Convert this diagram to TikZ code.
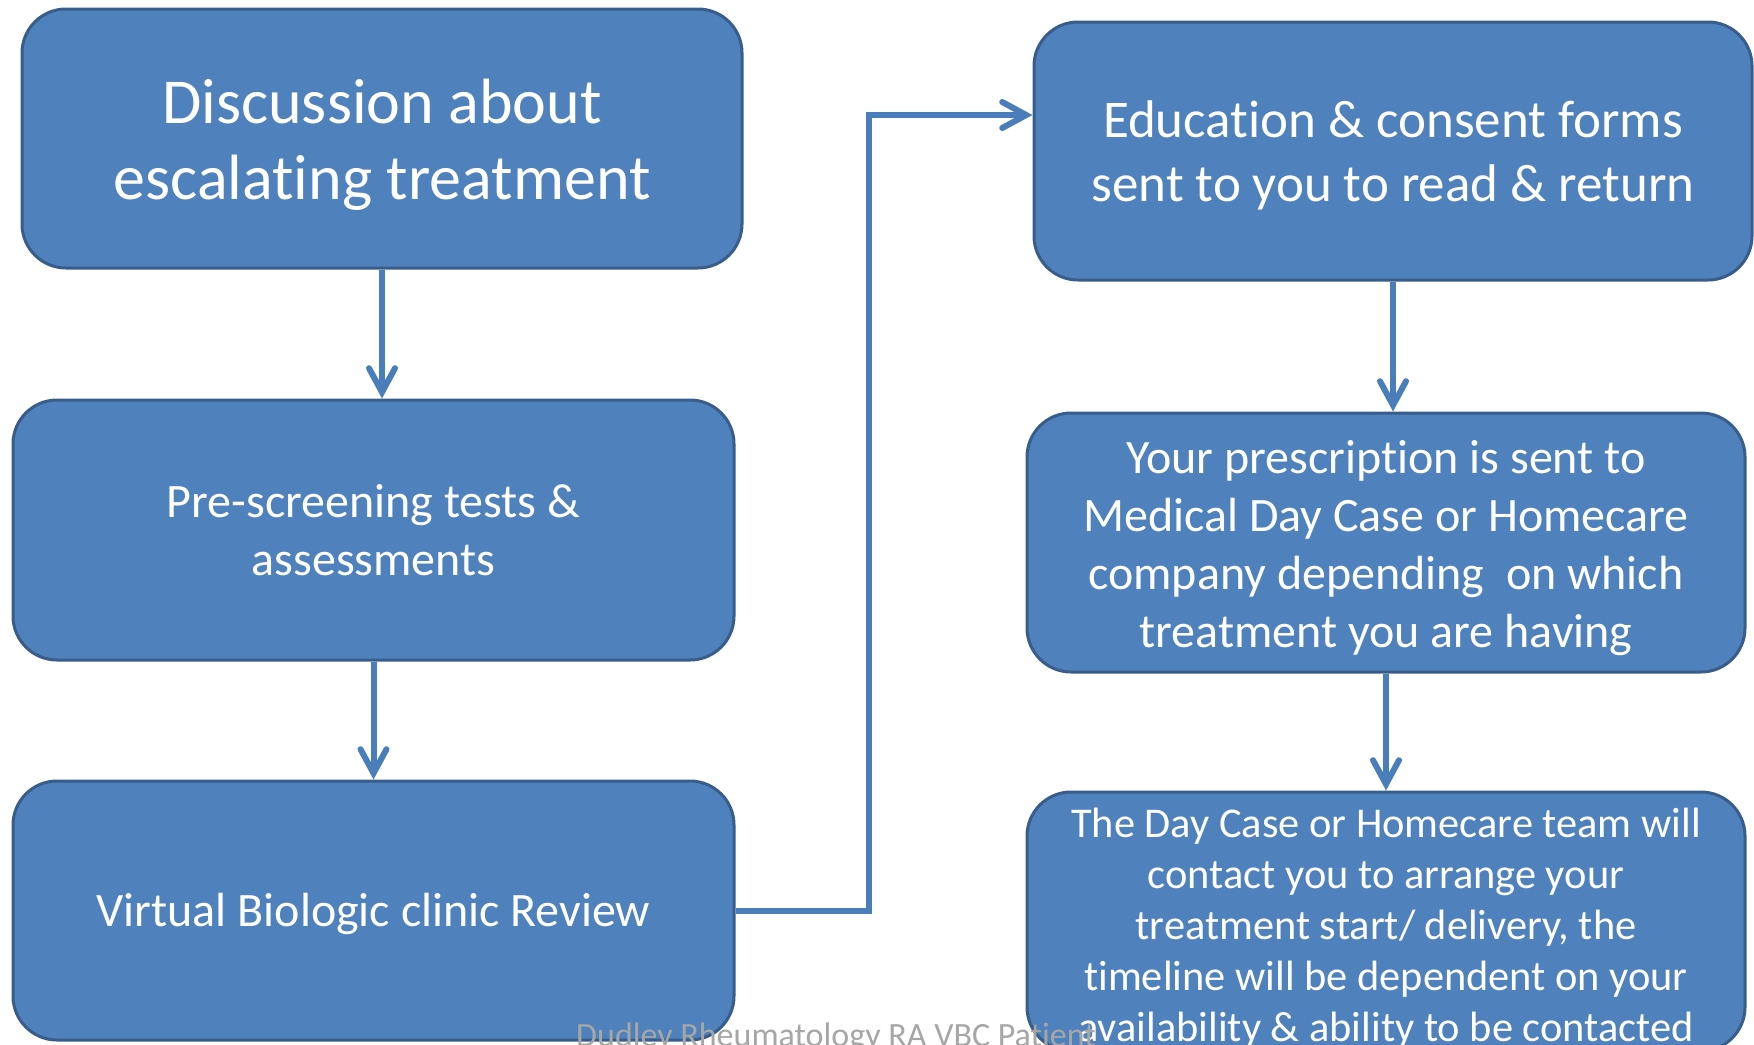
\documentclass[tikz,border=0pt]{standalone}
\usepackage{fontspec}
\setmainfont{Carlito}[Ligatures=NoCommon]
\usetikzlibrary{arrows.meta}
\definecolor{boxfill}{RGB}{79,129,189}
\definecolor{boxline}{RGB}{56,93,138}
\definecolor{arrcol}{RGB}{74,126,187}
\definecolor{wmark}{RGB}{166,166,166}
\tikzset{
  stepbox/.style={draw=boxline, fill=boxfill, line width=1.5pt, rounded corners=22pt,
    inner sep=0pt},
  boxtext/.style={text=white, align=center, inner sep=0pt},
  arr/.style={draw=arrcol, line width=3pt,
    -{Straight Barb[length=12pt,width=13pt,line cap=round]}},
}
\begin{document}
\begin{tikzpicture}[x=0.5pt,y=-0.5pt]
\useasboundingbox (0,0) rectangle (1754,1044);
\node[stepbox, minimum width=360pt, minimum height=129.5pt] (b1) at (382,138.5) {};
\node[boxtext, font=\fontsize{32}{38}\selectfont] (b1t) at ([yshift=-3pt]b1.center)
  {Discussion about\\escalating treatment};
\node[stepbox, minimum width=360.5pt, minimum height=130pt] (b2) at (373.5,530) {};
\node[boxtext, font=\fontsize{24}{29}\selectfont] (b2t) at (b2.center)
  {Pre-screening tests \&\\assessments};
\node[stepbox, minimum width=360.5pt, minimum height=129.5pt] (b3) at (373.5,910.5) {};
\node[boxtext, font=\fontsize{24}{29}\selectfont] (b3t) at ([yshift=-1.7pt]b3.center)
  {Virtual Biologic clinic Review};
\node[stepbox, minimum width=359pt, minimum height=129pt] (b4) at (1393,151) {};
\node[boxtext, font=\fontsize{26.5}{32}\selectfont] (b4t) at ([yshift=-2.3pt]b4.center)
  {Education \& consent forms\\sent to you to read \& return};
\node[stepbox, minimum width=359pt, minimum height=129.5pt] (b5) at (1386,542.5) {};
\node[boxtext, font=\fontsize{24}{29}\selectfont] (b5t) at ([yshift=-2.8pt]b5.center)
  {Your prescription is sent to\\Medical Day Case or Homecare\\company depending\ \ on which\\treatment you are having};
\node[stepbox, minimum width=359pt, minimum height=129.5pt] (b6) at (1386,921.5) {};
\node[boxtext, font=\fontsize{21.2}{25.5}\selectfont] (b6t) at ([yshift=-3.4pt]b6.center)
  {The Day Case or Homecare team will\\contact you to arrange your\\treatment start/ delivery, the\\timeline will be dependent on your\\availability \& ability to be contacted};
\node[font=\fontsize{17}{20}\selectfont, text=wmark, anchor=base, inner sep=0pt] (wm) at (836,1046)
  {Dudley Rheumatology RA VBC Patient};
\coordinate (turn) at (869,115);
\draw[arr] (b1.south) -- (b1.south |- b2.north);
\draw[arr] (b2.south) -- (b2.south |- b3.north);
\draw[arr] (b3.east) -| (turn) -- (turn -| b4.west);
\draw[arr] (b4.south) -- (b4.south |- b5.north);
\draw[arr] (b5.south) -- (b5.south |- b6.north);
\end{tikzpicture}
\end{document}
